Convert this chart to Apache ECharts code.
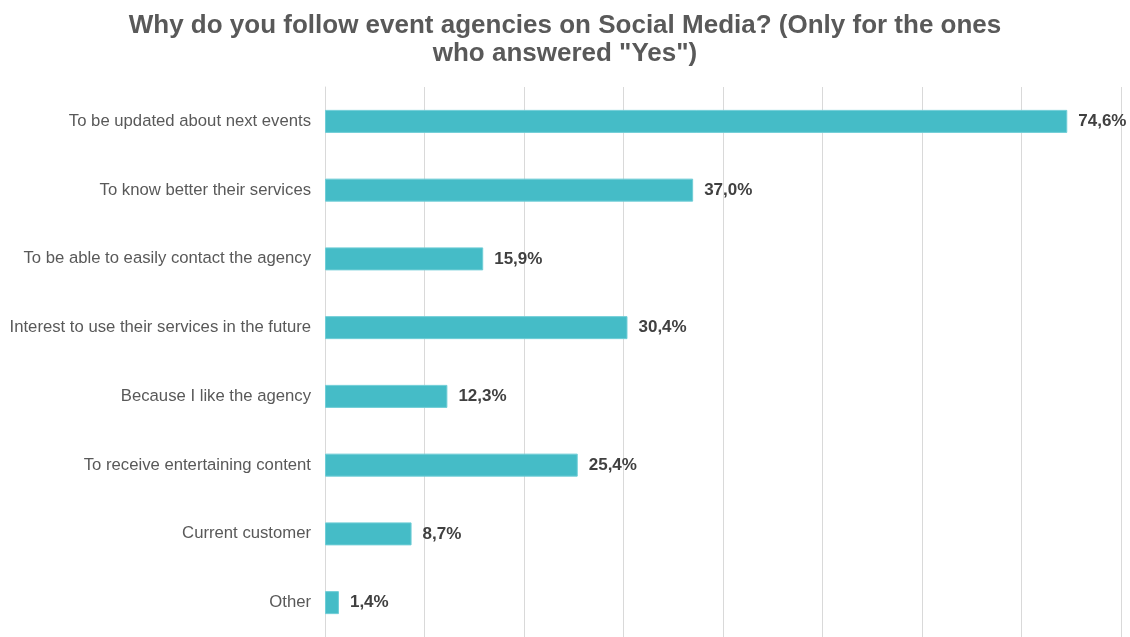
<!DOCTYPE html>
<html>
<head>
<meta charset="utf-8">
<script src="https://cdn.jsdelivr.net/npm/echarts@6/dist/echarts.min.js"></script>
<style>
  html, body { margin: 0; padding: 0; background: #ffffff; }
  #chart { width: 1130px; height: 637px; }
</style>
</head>
<body>
<div id="chart"></div>
<script>
// Reasons for following event agencies on social media (share of "Yes" respondents, %)
const categories = [
  'To be updated about next events',
  'To know better their services',
  'To be able to easily contact the agency',
  'Interest to use their services in the future',
  'Because I like the agency',
  'To receive entertaining content',
  'Current customer',
  'Other'
];
const shares = [74.6, 37.0, 15.9, 30.4, 12.3, 25.4, 8.7, 1.4];

const chart = echarts.init(document.getElementById('chart'), null, { renderer: 'canvas' });

chart.setOption({
  animation: false,
  backgroundColor: '#ffffff',
  title: {
    text: 'Why do you follow event agencies on Social Media? (Only for the ones\nwho answered "Yes")',
    left: 'center',
    top: 7,
    textStyle: {
      fontFamily: 'Liberation Sans, Arial, sans-serif',
      fontSize: 26,
      fontWeight: 'bold',
      color: '#595959',
      lineHeight: 28
    }
  },
  grid: {
    left: 325,
    right: 9,
    top: 87,
    bottom: -2,
    containLabel: false
  },
  xAxis: {
    type: 'value',
    min: 0,
    max: 80,
    interval: 10,
    axisLabel: { show: false },
    axisLine: { show: false },
    axisTick: { show: false },
    splitLine: { show: true, lineStyle: { color: '#d9d9d9', width: 1 } }
  },
  yAxis: {
    type: 'category',
    data: categories,
    inverse: true,
    axisLine: { show: true, lineStyle: { color: '#d9d9d9', width: 1 } },
    axisTick: { show: false },
    axisLabel: {
      margin: 14,
      fontFamily: 'Liberation Sans, Arial, sans-serif',
      fontSize: 16.7,
      color: '#595959'
    }
  },
  series: [{
    type: 'bar',
    data: shares,
    barWidth: 23,
    itemStyle: {
      color: '#45bcc7',
      borderColor: '#6fcdd6',
      borderWidth: 1
    },
    label: {
      show: true,
      position: 'right',
      distance: 11,
      fontFamily: 'Liberation Sans, Arial, sans-serif',
      fontSize: 17,
      fontWeight: 'bold',
      color: '#404040',
      formatter: p => p.value.toFixed(1).replace('.', ',') + '%'
    }
  }]
});
</script>
</body>
</html>
